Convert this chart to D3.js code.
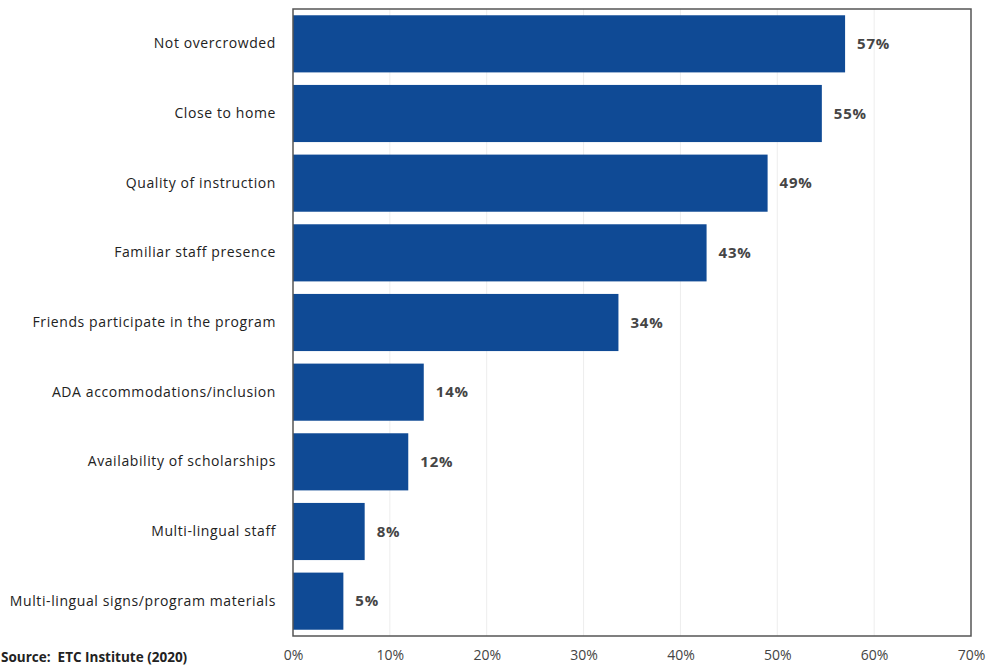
<!DOCTYPE html>
<html><head><meta charset="utf-8">
<script src="https://cdn.jsdelivr.net/npm/d3@7"></script>
<style>body{margin:0;background:#fff}svg{display:block}</style>
</head><body><svg id="c" width="987" height="666"></svg>
<script>
const categories = ["Not overcrowded","Close to home","Quality of instruction","Familiar staff presence","Friends participate in the program","ADA accommodations/inclusion","Availability of scholarships","Multi-lingual staff","Multi-lingual signs/program materials"];
const values = [57.0,54.6,49.0,42.7,33.6,13.5,11.9,7.4,5.2];
const valueLabels = ["57%","55%","49%","43%","34%","14%","12%","8%","5%"];
const tickValues = [0,10,20,30,40,50,60,70];
const source = "Source:  ETC Institute (2020)";

const svg = d3.select("#c");
const L = 293, R = 971, T = 9, B = 636;
const x = d3.scaleLinear().domain([0,70]).range([L,R]);
const y = d3.scaleBand().domain(categories).range([T,B]).paddingInner(0.18).paddingOuter(0.09);
const font = "'Open Sans', Lato, sans-serif";

// gridlines
svg.append("g").selectAll("line").data(tickValues.slice(1,-1)).join("line")
  .attr("x1",d=>x(d)).attr("x2",d=>x(d)).attr("y1",T).attr("y2",B)
  .attr("stroke","#ededed").attr("stroke-width",1);

// bars
svg.append("g").selectAll("rect").data(values).join("rect")
  .attr("x",x(0)).attr("y",(d,i)=>y(categories[i]))
  .attr("width",d=>x(d)-x(0)).attr("height",y.bandwidth())
  .attr("fill","#0f4a95");

// value labels
svg.append("g").selectAll("text").data(values).join("text")
  .attr("x",d=>x(d)+12).attr("y",(d,i)=>y(categories[i])+y.bandwidth()/2)
  .attr("dy","0.35em").attr("font-family",font).attr("font-weight","bold")
  .attr("font-size",15).attr("letter-spacing",0.8).attr("fill","#454545")
  .text((d,i)=>valueLabels[i]);

// frame
svg.append("rect").attr("x",L).attr("y",T).attr("width",R-L).attr("height",B-T)
  .attr("fill","none").attr("stroke","#555").attr("stroke-width",1.5);

// category axis
const ya = d3.axisLeft(y).tickSize(0).tickPadding(17);
const gy = svg.append("g").attr("transform",`translate(${L},0)`).call(ya);
gy.select(".domain").remove();
gy.selectAll("text").attr("font-family",font).attr("font-size",14)
  .attr("letter-spacing",0.6).attr("fill","#222");

// x axis
const xa = d3.axisBottom(x).tickValues(tickValues).tickFormat(d=>d+"%").tickSize(0).tickPadding(14);
const gx = svg.append("g").attr("transform",`translate(0,${B})`).call(xa);
gx.select(".domain").remove();
gx.selectAll("text").attr("font-family",font).attr("font-size",14).attr("fill","#444");

svg.append("text").attr("x",1).attr("y",662).attr("font-family",font)
  .style("white-space","pre")
  .attr("font-weight","bold").attr("font-size",13.5).attr("fill","#222").text(source);
</script></body></html>
